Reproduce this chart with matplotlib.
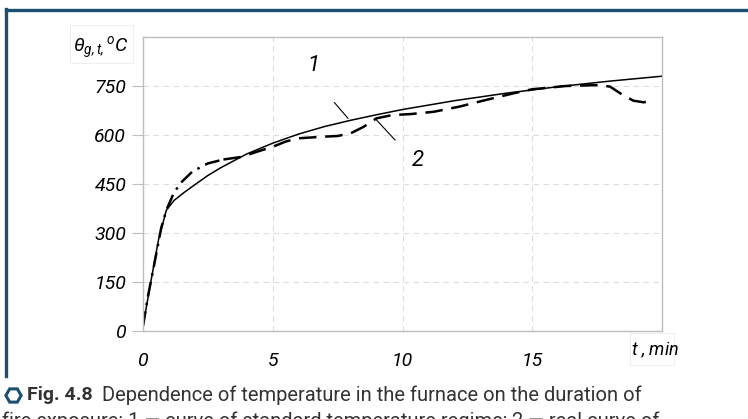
import matplotlib.pyplot as plt
from matplotlib.lines import Line2D
from matplotlib.patches import Rectangle

plt.rcParams['font.family'] = ['Roboto', 'DejaVu Sans']
plt.rcParams['mathtext.fontset'] = 'custom'
plt.rcParams['mathtext.it'] = 'Roboto:italic'
plt.rcParams['mathtext.rm'] = 'Roboto:italic'

# curve 1: standard temperature regime
t_std = [0, 0.3, 0.6, 0.9, 1.2, 1.6, 2, 2.5, 3, 4, 5, 6, 7, 8, 9, 10,
         12, 14, 16, 18, 20]
temp_std = [15, 150, 280, 370, 400, 425, 448, 476, 500, 542, 575, 603,
            626, 645, 662, 678, 705, 728, 748, 765, 780]

# curve 2: real fire curve (dash-dot start, then dashed)
t_real_a = [0, 0.2, 0.4, 0.7, 0.9, 1.2, 1.5, 1.9, 2.5, 3.1]
temp_real_a = [15, 110, 190, 315, 370, 425, 457, 488, 513, 525]
t_real_b = [3.1, 3.8, 4.4, 5, 5.5, 6, 7, 7.5, 8, 8.5, 9, 9.6, 10.3, 11.2,
            12.2, 13.2, 14.3, 15, 16.3, 17.6, 18, 18.5, 18.9, 19.3, 19.6]
temp_real_b = [525, 533, 549, 564, 580, 590, 595, 597, 605, 625, 651, 661,
               664, 671, 687, 707, 728, 740, 750, 753, 748, 722, 705, 700, 707]

x_ticks = [0, 5, 10, 15]
y_ticks = [0, 150, 300, 450, 600, 750]

navy = '#1d4f70'
grid_c = '#dcdcdc'
spine_c = '#bdbdbd'

fig = plt.figure(figsize=(7.48, 4.19), dpi=100)
ax = fig.add_axes([143 / 748, 88 / 419, 519 / 748, 294 / 419])

ax.plot(t_std, temp_std, color='black', lw=1.1)
ax.plot(t_real_a, temp_real_a, color='black', lw=1.8, dashes=(6, 2.5, 1, 2.5))
ax.plot(t_real_b, temp_real_b, color='black', lw=1.8, dashes=(7, 3.5))

# leader lines for curve numbers
ax.plot([7.38, 7.9], [699, 651], color='black', lw=0.8)
ax.plot([8.94, 9.71], [651, 585], color='black', lw=0.8)
ax.text(6.55, 814, '1', fontsize=16, style='italic', ha='center', va='center')
ax.text(10.6, 523, '2', fontsize=16, style='italic', ha='center', va='center')

ax.set_xlim(0, 20)
ax.set_ylim(0, 900)
ax.set_xticks(x_ticks)
ax.set_yticks(y_ticks)
ax.set_xticklabels([str(v) for v in x_ticks], fontsize=14, style='italic')
ax.set_yticklabels([str(v) for v in y_ticks], fontsize=14, style='italic')
ax.tick_params(axis='x', length=0, pad=15)
ax.tick_params(axis='y', length=8, color=spine_c, pad=4)
ax.grid(True, color=grid_c, ls=(0, (5, 4)), lw=0.8)
for s in ax.spines.values():
    s.set_color(spine_c)
    s.set_linewidth(1.0)

# axis captions in faint boxes
fig.patches.append(Rectangle((70 / 748, 1 - 63 / 419), 63 / 748, 38 / 419,
                             transform=fig.transFigure, fill=False,
                             ec='#eeeeee', lw=0.8))
fig.text(101 / 748, 1 - 48 / 419, r'$\theta_{g,t,}{}^{o}C$', fontsize=14,
         ha='center', va='center')
fig.patches.append(Rectangle((630 / 748, 1 - 365 / 419), 44 / 748, 32 / 419,
                             transform=fig.transFigure, fill=False,
                             ec='#eeeeee', lw=0.8))
fig.text(655 / 748, 1 - 350 / 419, r'$t$ , min', fontsize=13, style='italic',
         ha='center', va='center')

# frame lines
fig.add_artist(Line2D([6 / 748, 1], [1 - 10.5 / 419, 1 - 10.5 / 419],
                      color=navy, lw=2.4, transform=fig.transFigure))
fig.add_artist(Line2D([6 / 748, 6 / 748], [1 - 9 / 419, 1 - 376 / 419],
                      color=navy, lw=2.4, transform=fig.transFigure))

# figure caption
fig.add_artist(Line2D([13 / 748], [1 - 395 / 419], marker='H', ms=11,
                      mfc='white', mec=navy, mew=2.2, ls='none',
                      transform=fig.transFigure))
fig.text(27 / 748, 1 - 395 / 419, 'Fig. 4.8', fontsize=14, weight='bold',
         color='#333333', va='center', ha='left')
fig.text(102 / 748, 1 - 395 / 419,
         'Dependence of temperature in the furnace on the duration of',
         fontsize=14.5, color='#333333', va='center', ha='left')
fig.text(2 / 748, 1 - 421 / 419,
         'fire exposure: 1 \u2014 curve of standard temperature regime; '
         '2 \u2014 real curve of',
         fontsize=14.5, color='#333333', va='center', ha='left')

fig.savefig('out.png', dpi=100)
